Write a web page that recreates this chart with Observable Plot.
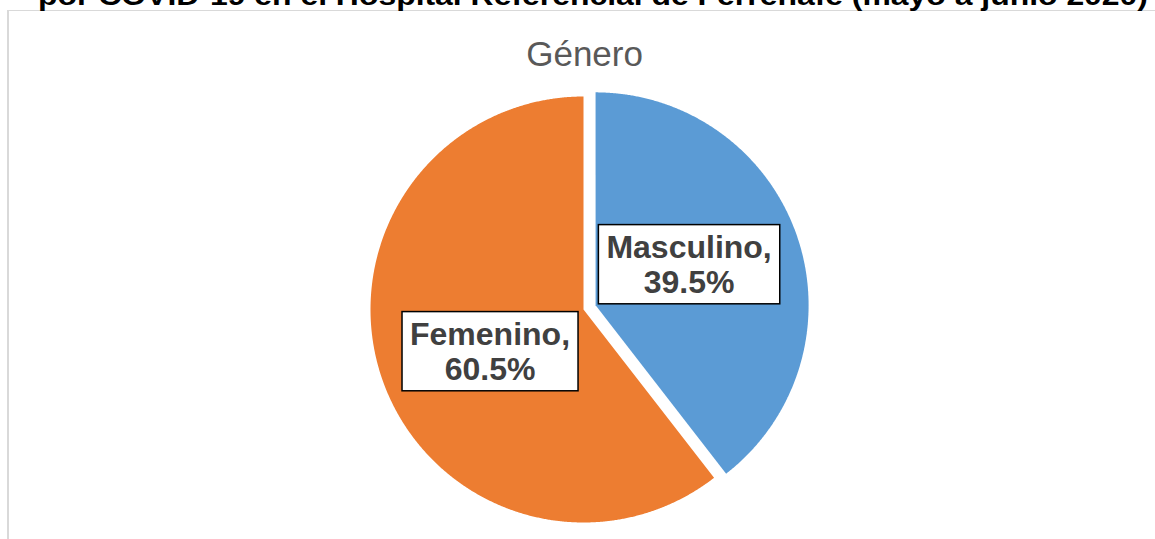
<!DOCTYPE html>
<html>
<head>
<meta charset="utf-8">
<script src="https://cdn.jsdelivr.net/npm/d3@7"></script>
<script src="https://cdn.jsdelivr.net/npm/@observablehq/plot@0.6"></script>
<style>
  body { margin: 0; background: #fff; overflow: hidden; }
  #wrap { position: relative; width: 1155px; height: 539px; overflow: hidden; background: #fff; }
  #wrap svg { position: absolute; left: 0; top: 0; }
  #frame { position: absolute; left: 7px; top: 10px; width: 1200px; height: 600px;
           border-left: 2px solid #d9d9d9; border-top: 1px solid #d9d9d9; pointer-events: none; }
</style>
</head>
<body>
<div id="wrap"><div id="frame"></div></div>
<script>
// ---- data ----
const categories = ["Masculino", "Femenino"];
const percents = [39.5, 60.5];
const colors = ["#5B9BD5", "#ED7D31"];
const explode = [0.06, 0];           // explosion, as fraction of radius
const chartTitle = "Género";
const pageTitle = "por COVID-19 en el Hospital Referencial de Ferreñafe (mayo a junio 2020)";

// ---- layout ----
const W = 1155, H = 539;
const R = 213, CX = 583, CY = 309;   // pie radius & centre (px)
const labelRadius = 0.48, labelShift = -5 * Math.PI / 180;
const FONT = "'Liberation Sans', Arial, Helvetica, sans-serif";

const rows = categories.map((c, i) => ({cat: c, pct: percents[i], ex: explode[i]}));
const arcs = d3.pie().sort(null).value(d => d.pct)(rows);

// slice polygons in unit coordinates (y up, angle clockwise from 12 o'clock)
const poly = [];
const labels = [];
for (const a of arcs) {
  const mid = (a.startAngle + a.endAngle) / 2;
  const ox = Math.sin(mid) * a.data.ex, oy = Math.cos(mid) * a.data.ex;
  const n = Math.max(8, Math.ceil((a.endAngle - a.startAngle) / 0.005));
  poly.push({cat: a.data.cat, x: ox, y: oy});
  for (let k = 0; k <= n; k++) {
    const t = a.startAngle + (a.endAngle - a.startAngle) * k / n;
    poly.push({cat: a.data.cat, x: ox + Math.sin(t), y: oy + Math.cos(t)});
  }
  poly.push({cat: a.data.cat, x: ox, y: oy});
  const la = mid + labelShift;
  labels.push({cat: a.data.cat, pct: a.data.pct,
               x: ox + Math.sin(la) * labelRadius, y: oy + Math.cos(la) * labelRadius});
}

const chart = Plot.plot({
  width: W, height: H, margin: 0,
  style: {background: "transparent", fontFamily: FONT},
  x: {domain: [-CX / R, (W - CX) / R], axis: null},
  y: {domain: [-(H - CY) / R, CY / R], axis: null},
  color: {domain: categories, range: colors},
  marks: [
    Plot.line(poly, {x: "x", y: "y", z: "cat", fill: "cat", stroke: "none", curve: "linear"}),
    Plot.text([{t: chartTitle, x: 0.005}], {x: "x", text: "t", frameAnchor: "top", dy: 65,
      lineAnchor: "bottom", fontSize: 35, fill: "#595959", fontFamily: FONT}),
    Plot.text(labels, {x: "x", y: "y", text: d => `${d.cat},\n${d.pct}%`,
      fontSize: 32, fontWeight: "bold", fill: "#404040", lineHeight: 1.1,
      fontFamily: FONT})
  ]
});

const wrap = document.getElementById("wrap");
wrap.insertBefore(chart, document.getElementById("frame"));

// page title (cut off at the top, as in the source)
const ts = d3.select(wrap).append("svg").attr("width", W).attr("height", 20)
  .style("position", "absolute").style("left", "0px").style("top", "0px");
ts.append("text").attr("x", 593).attr("y", 5).attr("text-anchor", "middle")
  .attr("font-family", FONT).attr("font-weight", "bold").attr("font-size", 28)
  .attr("textLength", 1110).attr("lengthAdjust", "spacingAndGlyphs")
  .attr("fill", "#000").text(pageTitle);

// white boxes behind the data labels
const labelTexts = Array.from(chart.querySelectorAll("text"))
  .filter(t => t.textContent.includes("%"));
for (const t of labelTexts) {
  const b = t.getBBox();
  const padX = 8, padY = 4;
  const rect = document.createElementNS("http://www.w3.org/2000/svg", "rect");
  const tr = t.getAttribute("transform");
  if (tr) rect.setAttribute("transform", tr);
  rect.setAttribute("x", b.x - padX);
  rect.setAttribute("y", b.y - padY);
  rect.setAttribute("width", b.width + 2 * padX);
  rect.setAttribute("height", b.height + 2 * padY);
  rect.setAttribute("fill", "#fff");
  rect.setAttribute("stroke", "#000");
  rect.setAttribute("stroke-width", 1.5);
  t.parentNode.insertBefore(rect, t);
}
</script>
</body>
</html>
